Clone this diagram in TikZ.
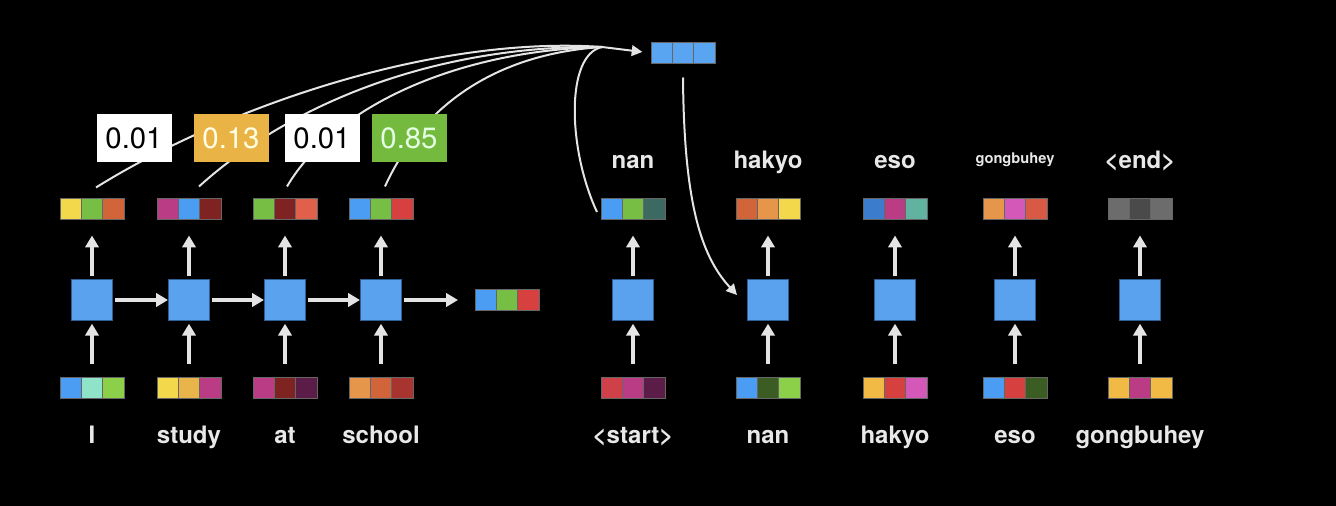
\documentclass[tikz,border=0pt]{standalone}
\usepackage{fontspec}
\setmainfont{TeX Gyre Heros}
\usepackage{tikz}
\usetikzlibrary{arrows.meta,positioning}
\definecolor{cellblue}{HTML}{5AA2EE}
\definecolor{celledge}{HTML}{2F5E96}
\definecolor{ctxblue}{HTML}{5AA5F2}
\definecolor{vblue}{HTML}{4A9DF2}
\definecolor{vgreen}{HTML}{76BE44}
\definecolor{lime}{HTML}{8CD04A}
\definecolor{aqua}{HTML}{8FE3C8}
\definecolor{vyellow}{HTML}{F2D84A}
\definecolor{amber}{HTML}{E9B54A}
\definecolor{gold}{HTML}{F0BA44}
\definecolor{vmagenta}{HTML}{BA3C84}
\definecolor{maroon}{HTML}{7E2222}
\definecolor{plum}{HTML}{5C1C48}
\definecolor{vorange}{HTML}{E6964A}
\definecolor{rust}{HTML}{D2643A}
\definecolor{brick}{HTML}{A83430}
\definecolor{salmon}{HTML}{E0604C}
\definecolor{vred}{HTML}{D6403E}
\definecolor{rose}{HTML}{D04048}
\definecolor{darkgreen}{HTML}{3B5C22}
\definecolor{pink}{HTML}{D458B8}
\definecolor{teal}{HTML}{3C6A62}
\definecolor{steel}{HTML}{3C7CCC}
\definecolor{seafoam}{HTML}{62B2A2}
\definecolor{tomato}{HTML}{D85A44}
\definecolor{endgray}{HTML}{6C6C6C}
\definecolor{enddark}{HTML}{4A4A4A}
\definecolor{arrowgray}{HTML}{E4E4E4}
\definecolor{wordgray}{HTML}{E8E8E8}
\definecolor{wamber}{HTML}{E9B445}
\definecolor{wgreen}{HTML}{74BA3E}
\tikzset{
  cellnode/.style={draw=celledge,line width=0.5pt,fill=cellblue,minimum size=31pt,inner sep=0pt},
  bitnode/.style={draw=black!60,line width=0.3pt,minimum width=16pt,minimum height=15.75pt,inner sep=0pt,outer sep=0pt},
  weightnode/.style={minimum width=56.25pt,minimum height=36pt,inner sep=0pt,font=\fontsize{22}{24}\selectfont},
  wordnode/.style={anchor=base,inner sep=0pt,text=wordgray,font=\bfseries\fontsize{18}{20}\selectfont},
  flowarrow/.style={-{Triangle[length=9pt,width=10pt]},draw=arrowgray,line width=2.4pt},
  attnline/.style={draw=arrowgray,line width=1.5pt},
  attnarrow/.style={attnline,-{Triangle[length=8pt,width=8pt]}},
}
\newcommand{\vecrow}[6]{%
  \node[bitnode,fill=#5] (#1) at (#2,#3) {};
  \node[bitnode,fill=#4,left=0pt of #1] (#1l) {};
  \node[bitnode,fill=#6,right=0pt of #1] (#1r) {};}

\begin{document}
\begin{tikzpicture}[x=0.75pt,y=-0.75pt]
  \fill[black] (0,0) rectangle (1336,506);
  % encoder
  \node[cellnode] (enc1) at (92,300) {};
  \node[cellnode] (enc2) at (189,300) {};
  \node[cellnode] (enc3) at (285,300) {};
  \node[cellnode] (enc4) at (381,300) {};
  \vecrow{x1}{92}{388}{vblue}{aqua}{lime}
  \vecrow{x2}{189}{388}{vyellow}{amber}{vmagenta}
  \vecrow{x3}{285}{388}{vmagenta}{maroon}{plum}
  \vecrow{x4}{381}{388}{vorange}{rust}{brick}
  \vecrow{h1}{92}{209}{vyellow}{vgreen}{rust}
  \vecrow{h2}{189}{209}{vmagenta}{vblue}{maroon}
  \vecrow{h3}{285}{209}{vgreen}{maroon}{salmon}
  \vecrow{h4}{381}{209}{vblue}{vgreen}{vred}
  \vecrow{hf}{507}{300}{vblue}{vgreen}{vred}
  \draw[flowarrow,shorten <=1.5pt] (enc1) -- (enc2);
  \draw[flowarrow,shorten <=1.5pt] (enc2) -- (enc3);
  \draw[flowarrow,shorten <=1.5pt] (enc3) -- (enc4);
  \draw[flowarrow,shorten <=1.5pt,shorten >=12.75pt] (enc4) -- (hfl);
  \draw[flowarrow,shorten <=10.5pt,shorten >=2pt] (x1) -- (enc1);
  \draw[flowarrow,shorten <=10.5pt,shorten >=2pt] (x2) -- (enc2);
  \draw[flowarrow,shorten <=10.5pt,shorten >=2pt] (x3) -- (enc3);
  \draw[flowarrow,shorten <=10.5pt,shorten >=2pt] (x4) -- (enc4);
  \draw[flowarrow,shorten <=2pt,shorten >=12pt] (enc1) -- (h1);
  \draw[flowarrow,shorten <=2pt,shorten >=12pt] (enc2) -- (h2);
  \draw[flowarrow,shorten <=2pt,shorten >=12pt] (enc3) -- (h3);
  \draw[flowarrow,shorten <=2pt,shorten >=12pt] (enc4) -- (h4);
  % decoder
  \node[cellnode] (dec1) at (633,300) {};
  \node[cellnode] (dec2) at (768,300) {};
  \node[cellnode] (dec3) at (895,300) {};
  \node[cellnode] (dec4) at (1015,300) {};
  \node[cellnode] (dec5) at (1140,300) {};
  \vecrow{s1}{633}{388}{rose}{vmagenta}{plum}
  \vecrow{s2}{768}{388}{vblue}{darkgreen}{lime}
  \vecrow{s3}{895}{388}{gold}{vred}{pink}
  \vecrow{s4}{1015}{388}{vblue}{vred}{darkgreen}
  \vecrow{s5}{1140}{388}{gold}{vmagenta}{gold}
  \vecrow{o1}{633}{209}{vblue}{vgreen}{teal}
  \vecrow{o2}{768}{209}{rust}{vorange}{vyellow}
  \vecrow{o3}{895}{209}{steel}{vmagenta}{seafoam}
  \vecrow{o4}{1015}{209}{vorange}{pink}{tomato}
  \vecrow{o5}{1140}{209}{endgray}{enddark}{endgray}
  \draw[flowarrow,shorten <=10.5pt,shorten >=2pt] (s1) -- (dec1);
  \draw[flowarrow,shorten <=10.5pt,shorten >=2pt] (s2) -- (dec2);
  \draw[flowarrow,shorten <=10.5pt,shorten >=2pt] (s3) -- (dec3);
  \draw[flowarrow,shorten <=10.5pt,shorten >=2pt] (s4) -- (dec4);
  \draw[flowarrow,shorten <=10.5pt,shorten >=2pt] (s5) -- (dec5);
  \draw[flowarrow,shorten <=2pt,shorten >=12pt] (dec1) -- (o1);
  \draw[flowarrow,shorten <=2pt,shorten >=12pt] (dec2) -- (o2);
  \draw[flowarrow,shorten <=2pt,shorten >=12pt] (dec3) -- (o3);
  \draw[flowarrow,shorten <=2pt,shorten >=12pt] (dec4) -- (o4);
  \draw[flowarrow,shorten <=2pt,shorten >=12pt] (dec5) -- (o5);
  % attention
  \vecrow{ctx}{683}{53}{ctxblue}{ctxblue}{ctxblue}
  \coordinate (merge) at (602,47);
  \draw[attnline] ([shift={(4,-11)}]h1.north) .. controls (220,110) and (430,35) .. (merge);
  \draw[attnline] ([shift={(10,-12)}]h2.north) .. controls (300,95) and (450,45) .. (merge);
  \draw[attnline] ([shift={(2,-12)}]h3.north) .. controls (335,105) and (460,50) .. (merge);
  \draw[attnline] ([shift={(4,-12)}]h4.north) .. controls (415,120) and (480,55) .. (merge);
  \draw[attnline] ([shift={(-4,3)}]o1l.west) .. controls (568,150) and (565,55) .. (merge);
  \draw[attnarrow,shorten >=6.5pt] (merge) -- (ctxl.west);
  \draw[attnarrow] ([shift={(0,14)}]ctx.south) .. controls (684,200) and (700,255) .. ([shift={(-10,-5)}]dec2.west);
  \node[weightnode,fill=white,text=black] (a1) at (134,138) {0.01};
  \node[weightnode,fill=wamber,text=white!90!yellow] (a2) at (231,138) {0.13};
  \node[weightnode,fill=white,text=black] (a3) at (322,138) {0.01};
  \node[weightnode,fill=wgreen,text=white!90!green] (a4) at (409,138) {0.85};
  % words
  \node[wordnode] (w1) at (92,443) {I};
  \node[wordnode] (w2) at (189,443) {study};
  \node[wordnode] (w3) at (285,443) {at};
  \node[wordnode] (w4) at (381,443) {school};
  \node[wordnode] (i1) at (633,443) {<start>};
  \node[wordnode] (i2) at (768,443) {nan};
  \node[wordnode] (i3) at (895,443) {hakyo};
  \node[wordnode] (i4) at (1015,443) {eso};
  \node[wordnode] (i5) at (1140,443) {gongbuhey};
  \node[wordnode] (t1) at (633,169) {nan};
  \node[wordnode] (t2) at (768,169) {hakyo};
  \node[wordnode] (t3) at (895,169) {eso};
  \node[wordnode,font=\bfseries\fontsize{11}{13}\selectfont] (t4) at (1015,164) {gongbuhey};
  \node[wordnode] (t5) at (1140,169) {<end>};
\end{tikzpicture}
\end{document}
